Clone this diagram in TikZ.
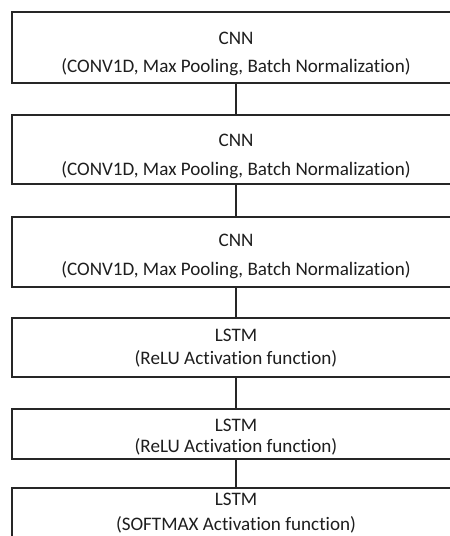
\documentclass[tikz,border=0pt]{standalone}
\usepackage{fontspec}
\setmainfont{Carlito}[Ligatures=NoCommon]
\definecolor{edge}{HTML}{262626}
\definecolor{ink}{HTML}{1E1E1E}
\tikzset{
  layer/.style={draw=edge, line width=1.2pt, fill=white, minimum width=448pt, inner sep=0pt, outer sep=0pt},
  caption/.style={anchor=base, align=center, text=ink, inner sep=0pt},
  link/.style={draw=edge, line width=1.1pt},
}
\begin{document}
\begin{tikzpicture}[x=1pt, y=-1pt]
  \useasboundingbox (0,0) rectangle (450,536);
  \clip (0,0) rectangle (450,536);
  \fill[white] (0,0) rectangle (450,536);

  % layer boxes
  \node[layer, minimum height=71pt] (b1) at (236,47.5) {};
  \node[layer, minimum height=69pt] (b2) at (236,149.5) {};
  \node[layer, minimum height=70pt] (b3) at (236,252) {};
  \node[layer, minimum height=59pt] (b4) at (236,347.5) {};
  \node[layer, minimum height=50pt] (b5) at (236,434) {};
  \node[layer, minimum height=62pt] (b6) at (236,519) {};

  % connectors
  \draw[link] (b1.south) -- (b2.north);
  \draw[link] (b2.south) -- (b3.north);
  \draw[link] (b3.south) -- (b4.north);
  \draw[link] (b4.south) -- (b5.north);
  \draw[link] (b5.south) -- (b6.north);

  % captions (the base anchor sits on the last line)
  \node[caption, font=\fontsize{19.1}{28.5}\selectfont] (t1) at (236,72.7) {CNN\\(CONV1D, Max Pooling, Batch Normalization)};
  \node[caption, font=\fontsize{19.1}{28.5}\selectfont] (t2) at (236,175) {CNN\\(CONV1D, Max Pooling, Batch Normalization)};
  \node[caption, font=\fontsize{19.1}{28.5}\selectfont] (t3) at (236,275) {CNN\\(CONV1D, Max Pooling, Batch Normalization)};
  \node[caption, font=\fontsize{19.1}{22.3}\selectfont] (t4) at (236,364) {LSTM\\(ReLU Activation function)};
  \node[caption, font=\fontsize{19.1}{21.5}\selectfont] (t5) at (236,452.5) {LSTM\\(ReLU Activation function)};
  \node[caption, font=\fontsize{19.1}{24.5}\selectfont] (t6) at (236,530) {LSTM\\(SOFTMAX Activation function)};
\end{tikzpicture}
\end{document}
